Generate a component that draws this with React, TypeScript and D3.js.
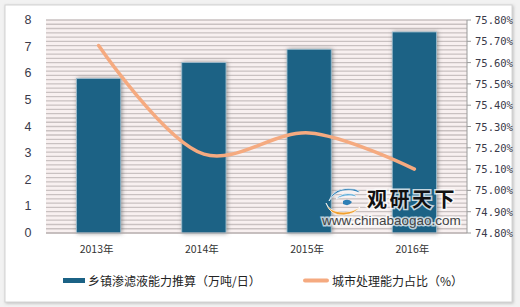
import React from "react";
import * as d3 from "d3";

const categories = ["2013年", "2014年", "2015年", "2016年"];
const barValues = [5.8, 6.4, 6.9, 7.55];
const lineValues = [75.68, 75.17, 75.27, 75.1];
const leftTicks = [0, 1, 2, 3, 4, 5, 6, 7, 8];
const rightTicks = [74.8, 74.9, 75.0, 75.1, 75.2, 75.3, 75.4, 75.5, 75.6, 75.7, 75.8];
const barLegend = "乡镇渗滤液能力推算（万吨/日）";
const lineLegend = "城市处理能力占比（%）";

const W = 520;
const H = 307;
const plot = { left: 46, right: 467, top: 20, bottom: 233 };

export default function App() {
  const x = d3
    .scaleBand<string>()
    .domain(categories)
    .range([plot.left, plot.right])
    .paddingInner(0.58)
    .paddingOuter(0.29);
  const yL = d3.scaleLinear().domain([0, 8]).range([plot.bottom, plot.top]);
  const yR = d3.scaleLinear().domain([74.8, 75.8]).range([plot.bottom, plot.top]);
  const cx = (c: string) => (x(c) as number) + x.bandwidth() / 2;

  const stripes = d3.range(0, 51).map((i) => (i * 8) / 50);

  const line = d3
    .line<number>()
    .x((_, i) => cx(categories[i]))
    .y((d) => yR(d))
    .curve(d3.curveCatmullRom.alpha(0.5));

  const fmtR = (v: number) => v.toFixed(2) + "%";

  return (
    <svg
      width={W}
      height={H}
      style={{ position: "absolute", left: 0, top: 0 }}
      xmlns="http://www.w3.org/2000/svg"
    >
      <defs>
        <filter id="barShadow" x="-30%" y="-10%" width="160%" height="120%">
          <feGaussianBlur in="SourceAlpha" stdDeviation="2" />
          <feOffset dx="1" dy="0" result="b" />
          <feFlood floodColor="#707070" floodOpacity="0.75" />
          <feComposite in2="b" operator="in" />
          <feMerge>
            <feMergeNode />
            <feMergeNode in="SourceGraphic" />
          </feMerge>
        </filter>
        <filter id="frameShadow" x="-5%" y="-5%" width="110%" height="110%">
          <feDropShadow dx="1" dy="1" stdDeviation="1.5" floodColor="#999" floodOpacity="0.6" />
        </filter>
      </defs>
      <rect x={0} y={0} width={W} height={H} fill="#f2f2f2" />
      <rect
        x={5}
        y={5}
        width={507}
        height={297}
        fill="#ffffff"
        stroke="#d4d4d4"
        strokeWidth={1}
        filter="url(#frameShadow)"
      />
      {/* plot background */}
      <rect
        x={plot.left}
        y={plot.top}
        width={plot.right - plot.left}
        height={plot.bottom - plot.top}
        fill="#f8f0f0"
      />
      {stripes.map((v, i) => (
        <line
          key={i}
          x1={plot.left}
          x2={plot.right}
          y1={yL(v)}
          y2={yL(v)}
          stroke="#c9c1c1"
          strokeWidth={1.3}
        />
      ))}
      {/* bars */}
      {categories.map((c, i) => (
        <rect
          key={c}
          x={x(c)}
          y={yL(barValues[i])}
          width={x.bandwidth()}
          height={plot.bottom - yL(barValues[i])}
          fill="#1b6285"
          stroke="#9fbfd0"
          strokeWidth={0.8}
          filter="url(#barShadow)"
        />
      ))}
      {/* baseline */}
      <line x1={plot.left} x2={plot.right} y1={plot.bottom} y2={plot.bottom} stroke="#b8b0b0" strokeWidth={1} />
      {/* line series */}
      <path
        d={line(lineValues) || ""}
        fill="none"
        stroke="#f5aa80"
        strokeWidth={3.5}
        strokeLinecap="round"
      />
      {/* left axis */}
      {leftTicks.map((t) => (
        <text
          key={t}
          x={28}
          y={yL(t)}
          textAnchor="middle"
          dominantBaseline="central"
          fontFamily="Liberation Sans, Arial, sans-serif"
          fontSize={12.5}
          fill="#3a3a4a"
        >
          {t}
        </text>
      ))}
      {/* right axis */}
      <line x1={plot.right} x2={plot.right} y1={plot.top} y2={plot.bottom} stroke="#9a9a9a" strokeWidth={1} />
      {rightTicks.map((t) => (
        <g key={t}>
          <line x1={plot.right} x2={plot.right + 4} y1={yR(t)} y2={yR(t)} stroke="#9a9a9a" strokeWidth={1} />
          <text
            x={475}
            y={yR(t)}
            dominantBaseline="central"
            fontFamily="DejaVu Sans Mono, monospace"
            fontSize={10.5}
            fill="#3a3a4a"
          >
            {fmtR(t)}
          </text>
        </g>
      ))}
      {/* x labels */}
      {categories.map((c) => (
        <text
          key={c}
          x={cx(c) - 2}
          y={248}
          textAnchor="middle"
          dominantBaseline="central"
          fontFamily="Noto Sans CJK SC, sans-serif"
          fontSize={10.5}
          fill="#333"
        >
          {c}
        </text>
      ))}
      {/* watermark */}
      <g>
        <path d="M329,201 q4,-15 26,-12 q4,1 5,4 q-8,-4 -18,-2 q-8,2 -13,10 z" fill="#2f7fb5" stroke="#fff" strokeOpacity={0.7} strokeWidth={1} />
        <path d="M336,199 q6,-7 17,-5 q3,1 4,3 q-6,-2 -12,-1 q-5,1 -9,3 z" fill="#5aa8d6" stroke="#fff" strokeOpacity={0.7} strokeWidth={1} />
        <path d="M326,203 q3,8 14,9 q12,1 20,-5 q-5,7 -16,8 q-14,1 -18,-12 z" fill="#f0a030" stroke="#fff" strokeOpacity={0.7} strokeWidth={1} />
        <path d="M343,201 q5,-3 9,1 q-3,5 -9,2 z" fill="#2f7fb5" />
        <text
          x={367}
          y={207}
          fontFamily="Noto Sans CJK SC, sans-serif"
          fontWeight={700}
          fontSize={20}
          letterSpacing={2.5}
          fill="#111"
          stroke="#ffffff"
          strokeOpacity={0.75}
          strokeWidth={3}
          paintOrder="stroke"
        >
          观研天下
        </text>
        <text
          x={322}
          y={225}
          fontFamily="Liberation Sans, Arial, sans-serif"
          fontSize={13.5}
          fill="#444"
          stroke="#ffffff"
          strokeOpacity={0.7}
          strokeWidth={3}
          paintOrder="stroke"
        >
          www.chinabaogao.com
        </text>
      </g>
      {/* legend */}
      <rect x={63} y={278} width={22} height={5} fill="#1b6285" />
      <text
        x={88}
        y={280.5}
        dominantBaseline="central"
        fontFamily="Noto Sans CJK SC, sans-serif"
        fontSize={12}
        fill="#222"
      >
        {barLegend}
      </text>
      <line x1={305} x2={327} y1={280.5} y2={280.5} stroke="#f5aa80" strokeWidth={4} strokeLinecap="round" />
      <text
        x={332}
        y={280.5}
        dominantBaseline="central"
        fontFamily="Noto Sans CJK SC, sans-serif"
        fontSize={12}
        fill="#222"
      >
        {lineLegend}
      </text>
    </svg>
  );
}
